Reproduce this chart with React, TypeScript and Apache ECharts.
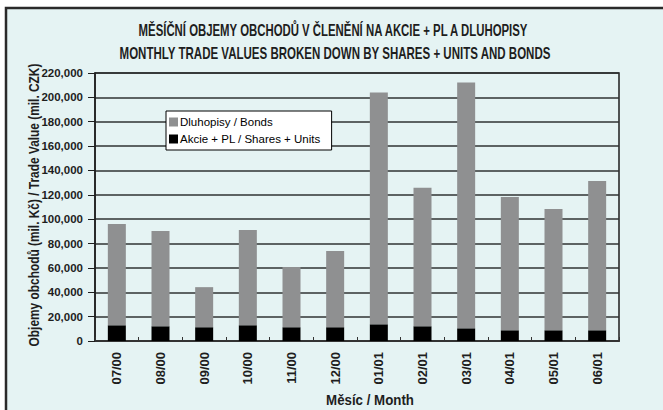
import React, { useEffect, useRef } from "react";
import * as echarts from "echarts";

const months = ["07/00", "08/00", "09/00", "10/00", "11/00", "12/00", "01/01", "02/01", "03/01", "04/01", "05/01", "06/01"];
const shares = [12900, 12100, 11300, 12900, 11300, 11300, 13700, 12100, 10400, 8800, 8800, 8800];
const bonds = [83100, 78200, 32900, 78200, 49400, 62500, 190200, 113600, 201700, 109500, 99600, 122600];
const yTicks = { min: 0, max: 220000, interval: 20000 };

const titleLine1 = "MĚSÍČNÍ OBJEMY OBCHODŮ V ČLENĚNÍ NA AKCIE + PL A DLUHOPISY";
const titleLine2 = "MONTHLY TRADE VALUES BROKEN DOWN BY SHARES + UNITS AND BONDS";
const yName = "Objemy obchodů (mil. Kč) / Trade Value (mil. CZK)";
const xName = "Měsíc / Month";
const bondsName = "Dluhopisy / Bonds";
const sharesName = "Akcie + PL / Shares + Units";

const FONT = '"Liberation Sans", Arial, sans-serif';
const BG = "#e5f3f3";
const INK = "#1e1e1e";

export default function App() {
  const ref = useRef<HTMLDivElement>(null);
  useEffect(() => {
    if (!ref.current) return;
    const chart = echarts.init(ref.current, undefined, { renderer: "svg" });
    const condensed = (text: string, x: number, y: number, size: number, sx: number, rot = 0) => ({
      type: "text",
      x,
      y,
      scaleX: sx,
      rotation: rot,
      silent: true,
      style: {
        text,
        fontFamily: FONT,
        fontSize: size,
        fontWeight: "bold",
        fill: INK,
        align: "center",
        verticalAlign: "middle",
      },
    });
    chart.setOption({
      animation: false,
      backgroundColor: "#ffffff",
      textStyle: { fontFamily: FONT },
      graphic: [
        {
          type: "rect",
          z: -10,
          silent: true,
          shape: { x: 6, y: 8, width: 720, height: 460 },
          style: { fill: BG, stroke: "#2a2a2a", lineWidth: 2.5 },
        },
        condensed(titleLine1, 333, 30, 17, 0.67),
        condensed(titleLine2, 335, 53, 17, 0.678),
        condensed(xName, 370, 400, 14, 0.95),
        condensed(yName, 34, 205, 14, 0.85, Math.PI / 2),
      ],
      legend: {
        orient: "vertical",
        left: 166,
        top: 111,
        backgroundColor: "#ffffff",
        borderColor: "#000",
        borderWidth: 1,
        padding: [5, 11, 5, 3],
        itemGap: 5,
        itemWidth: 9,
        itemHeight: 9,
        icon: "rect",
        data: [bondsName, sharesName],
        textStyle: { fontFamily: FONT, fontSize: 11.5, color: "#000", padding: [0, 0, 0, -3] },
      },
      grid: {
        left: 95,
        right: 44,
        top: 73,
        bottom: 69,
        show: true,
        borderColor: INK,
        borderWidth: 1.5,
        backgroundColor: "transparent",
      },
      xAxis: {
        type: "category",
        data: months,
        boundaryGap: true,
        axisLine: { show: true, lineStyle: { color: "#333", width: 2 } },
        axisTick: { show: true, inside: true, length: 4, lineStyle: { color: "#333" } },
        axisLabel: { rotate: 90, margin: 11, fontSize: 13, fontWeight: "bold", color: INK, fontFamily: FONT },
      },
      yAxis: {
        type: "value",
        min: yTicks.min,
        max: yTicks.max,
        interval: yTicks.interval,
        axisLine: { show: true, lineStyle: { color: INK, width: 1.5 } },
        axisTick: { show: true, length: 7, lineStyle: { color: INK } },
        splitLine: { show: true, lineStyle: { color: "#2f3333", width: 1.5 } },
        axisLabel: {
          margin: 12,
          fontSize: 11.5,
          fontWeight: "bold",
          color: INK,
          fontFamily: FONT,
          formatter: (v: number) => v.toLocaleString("en-US"),
        },
      },
      series: [
        {
          name: sharesName,
          type: "bar",
          stack: "total",
          barWidth: 18,
          itemStyle: { color: "#000000" },
          data: shares,
        },
        {
          name: bondsName,
          type: "bar",
          stack: "total",
          barWidth: 18,
          itemStyle: { color: "#8f9091" },
          data: bonds,
        },
      ],
    });
    return () => chart.dispose();
  }, []);
  return <div ref={ref} style={{ position: "absolute", left: 0, top: 0, width: 663, height: 410 }} />;
}
